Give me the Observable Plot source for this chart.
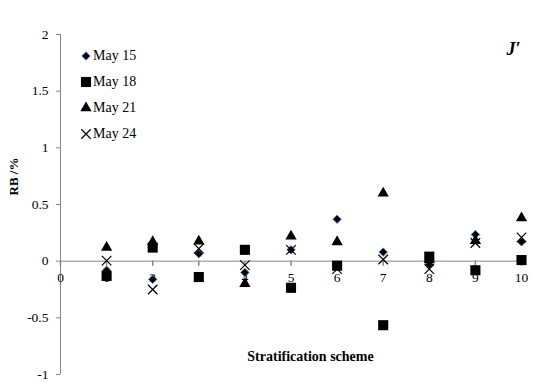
<!DOCTYPE html>
<html>
<head>
<meta charset="utf-8">
<script src="https://cdn.jsdelivr.net/npm/d3@7"></script>
<script src="https://cdn.jsdelivr.net/npm/@observablehq/plot@0.6"></script>
<style>
  body { margin: 0; background: #fff; }
  #wrap { position: relative; width: 538px; height: 383px; font-family: "Times New Roman", "Liberation Serif", Times, serif; }
  #legend { position: absolute; left: 79px; top: 43px; font-size: 14px; }
  #legend .row { height: 26px; display: flex; align-items: center; }
  #legend svg { width: 14px; height: 14px; margin-right: 0px; }
</style>
</head>
<body>
<div id="wrap"></div>
<script>
const schemes = [1, 2, 3, 4, 5, 6, 7, 8, 9, 10];
const seriesNames = ["May 15", "May 18", "May 21", "May 24"];
const may15 = [-0.08, -0.16, 0.065, -0.10, 0.10, 0.37, 0.08, -0.03, 0.235, 0.17];
const may18 = [-0.13, 0.12, -0.14, 0.10, -0.235, -0.04, -0.565, 0.04, -0.08, 0.01];
const may21 = [0.12, 0.17, 0.175, -0.20, 0.22, 0.17, 0.60, 0.01, 0.18, 0.38];
const may24 = [0.005, -0.25, 0.11, -0.035, 0.10, -0.07, 0.015, -0.07, 0.16, 0.21];
const xTicks = [0, 1, 2, 3, 4, 5, 6, 7, 8, 9, 10];
const yTicks = [-1, -0.5, 0, 0.5, 1, 1.5, 2];

const styles = [
  {symbol: "diamond2", fill: "#000", stroke: "#4f81bd", strokeWidth: 1, r: 3.8},
  {symbol: "square", fill: "#000", stroke: "none", strokeWidth: 0, r: 5.7},
  {symbol: "triangle", fill: "#000", stroke: "none", strokeWidth: 0, r: 4.2},
  {symbol: "times", fill: "none", stroke: "#000", strokeWidth: 1.2, r: 4.4}
];
const values = [may15, may18, may21, may24];
const rows = values.map((vals, s) => schemes.map((x, i) => ({x, y: vals[i], s})));

const serif = "'Times New Roman', 'Liberation Serif', Times, serif";
const axisColor = "#868686";
const plot = Plot.plot({
  width: 538,
  height: 383,
  marginLeft: 60,
  marginRight: 17,
  marginTop: 34,
  marginBottom: 9,
  style: {fontFamily: serif, fontSize: "13px", background: "#fff"},
  x: {domain: [0, 10], axis: null},
  y: {domain: [-1, 2], axis: null},
  marks: [
    Plot.ruleX([0], {stroke: axisColor}),
    Plot.axisY(yTicks, {tickSize: 4, tickPadding: 8, stroke: axisColor, tickFormat: d => String(d), label: null, fill: "#000", fontSize: 13.5}),
    Plot.ruleY([0], {stroke: axisColor}),
    Plot.vector(xTicks, {x: d => d, y: 0, length: 4, rotate: 180, anchor: "start", stroke: axisColor, shape: "spike", r: 0}),
    Plot.text(xTicks, {x: d => d, y: 0, dy: 17, text: d => String(d), fill: "#000", fontSize: 13.5}),
    ...rows.map((data, s) => Plot.dot(data, {x: "x", y: "y", ...styles[s]})),
    Plot.text(["RB /%"], {frameAnchor: "left", dx: -47, dy: -9, rotate: -90, fontWeight: "bold", fontSize: 13, fill: "#000"}),
    Plot.text(["Stratification scheme"], {frameAnchor: "bottom", dx: 19.5, dy: -14, fontWeight: "bold", fontSize: 14, fill: "#000"}),
    Plot.text(["J\u2032"], {frameAnchor: "top-right", dx: -1, dy: 8, fontWeight: "bold", fontStyle: "italic", fontSize: 18, fill: "#000"})
  ]
});
const wrap = document.getElementById("wrap");
wrap.appendChild(plot);

// legend overlay
const legend = document.createElement("div");
legend.id = "legend";
const symbolTypes = {diamond2: d3.symbolDiamond2, square: d3.symbolSquare, triangle: d3.symbolTriangle, times: d3.symbolTimes};
seriesNames.forEach((name, s) => {
  const st = styles[s];
  const row = document.createElement("div");
  row.className = "row";
  const sym = d3.symbol(symbolTypes[st.symbol], st.r * st.r * Math.PI);
  const svg = d3.create("svg").attr("viewBox", "-7 -7 14 14");
  svg.append("path").attr("d", sym()).attr("fill", st.fill).attr("stroke", st.stroke).attr("stroke-width", st.strokeWidth);
  row.appendChild(svg.node());
  const t = document.createElement("span");
  t.textContent = name;
  row.appendChild(t);
  legend.appendChild(row);
});
wrap.appendChild(legend);
</script>
</body>
</html>
